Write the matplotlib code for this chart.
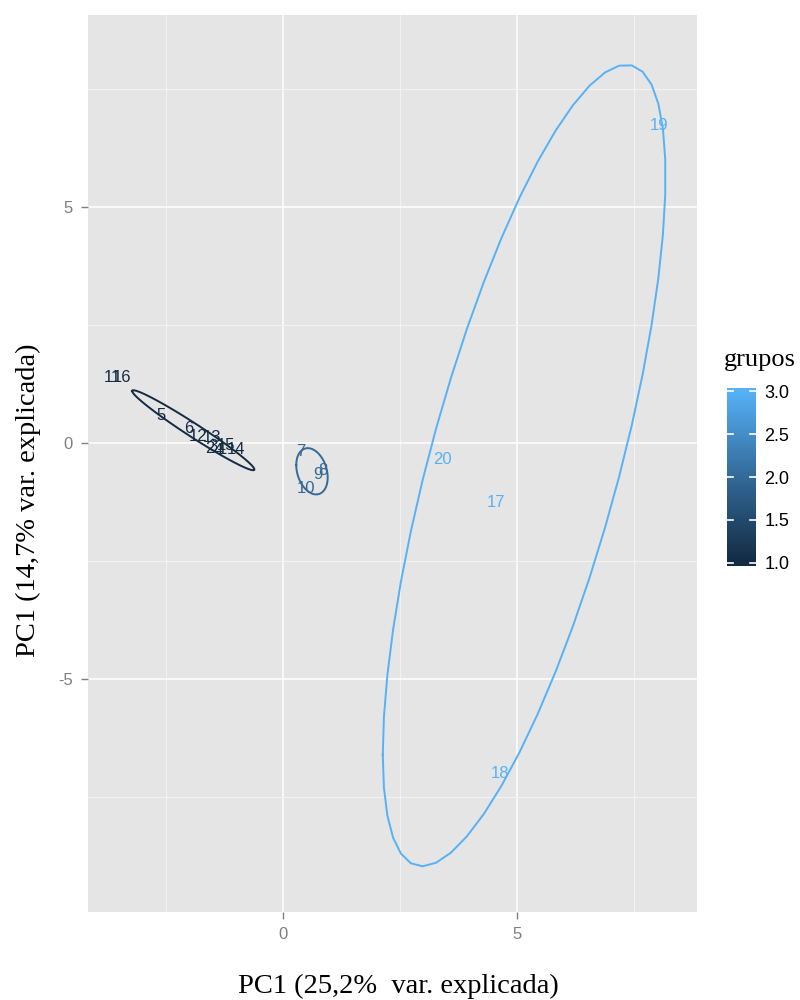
import numpy as np
import matplotlib
matplotlib.use("Agg")
import matplotlib.pyplot as plt
from matplotlib.colors import LinearSegmentedColormap, Normalize

# PCA scores
labels = ["1", "2", "3", "4", "5", "6", "7", "8", "9", "10",
          "11", "12", "13", "14", "15", "16", "17", "18", "19", "20"]
pc1 = [-1.30, -1.56, -1.50, -1.39, -2.61, -2.01, 0.38, 0.86, 0.75, 0.49,
       -3.65, -1.82, -1.52, -1.00, -1.22, -3.44, 4.55, 4.64, 8.04, 3.40]
pc2 = [-0.13, -0.11, -0.08, -0.15, 0.58, 0.31, -0.18, -0.59, -0.66, -0.97,
       1.38, 0.13, 0.11, -0.13, -0.05, 1.38, -1.27, -7.00, 6.72, -0.36]
grupos = [1, 1, 1, 1, 1, 1, 2, 2, 2, 2,
          1, 1, 1, 1, 1, 1, 3, 3, 3, 3]

chi2_68 = 2.2788  # qchisq(0.68, df=2), ggbiplot default ellipse.prob

x_ticks = [0, 5]
y_ticks = [-5, 0, 5]
cbar_ticks = [1.0, 1.5, 2.0, 2.5, 3.0]

plt.rcParams['axes.unicode_minus'] = False
cmap = LinearSegmentedColormap.from_list("ggblue", ["#132B43", "#336A98", "#56B1F7"])
norm = Normalize(1, 3)

serif = "Liberation Serif"
sans = "Liberation Sans"

fig = plt.figure(figsize=(8, 10), dpi=100)
ax = fig.add_axes([0.11, 0.088, 0.761, 0.897])
ax.set_facecolor("#E5E5E5")

pc1 = np.array(pc1)
pc2 = np.array(pc2)
grupos = np.array(grupos)

# ellipses like ggbiplot: circle %*% chol(var) * sqrt(qchisq(p, 2)) + mean
theta = np.linspace(-np.pi, np.pi, 50)
circle = np.column_stack([np.cos(theta), np.sin(theta)])
ed = np.sqrt(chi2_68)
for g in [1, 2, 3]:
    m = grupos == g
    xy = np.column_stack([pc1[m], pc2[m]])
    sigma = np.cov(xy, rowvar=False)
    L = np.linalg.cholesky(sigma)
    ell = circle @ L.T * ed + xy.mean(axis=0)
    ax.plot(ell[:, 0], ell[:, 1], color=cmap(norm(g)), lw=1.4, zorder=3)

for lab, x, y, g in zip(labels, pc1, pc2, grupos):
    ax.text(x, y, lab, color=cmap(norm(g)), fontsize=12, family=sans,
            ha="center", va="center", zorder=4)

ax.set_xlim(-4.17, 8.85)
ax.set_ylim(-9.94, 9.07)
ax.set_xticks(x_ticks)
ax.set_yticks(y_ticks)
ax.set_xticks([-2.5, 2.5, 7.5], minor=True)
ax.set_yticks([-7.5, -2.5, 2.5, 7.5], minor=True)
ax.grid(True, which="major", color="white", lw=1.1)
ax.grid(True, which="minor", color="#F2F2F2", lw=0.8)
ax.set_axisbelow(True)
for s in ax.spines.values():
    s.set_visible(False)
ax.tick_params(which="major", colors="#7F7F7F", length=5, width=1,
               labelsize=12, pad=6)
ax.tick_params(which="minor", length=0)
for t in ax.get_xticklabels() + ax.get_yticklabels():
    t.set_family(sans)

# axis titles (old ggplot centres the y title on the whole figure)
fig.text(0.4975, 0.014, "PC1 (25,2%  var. explicada)", family=serif, fontsize=20.5,
         ha="center", va="center")
fig.text(0.036, 0.5, "PC1 (14,7% var. explicada)", family=serif, fontsize=20.5,
         rotation=90, ha="center", va="center")

# colour bar legend, drawn as a gradient image
cax = fig.add_axes([0.909, 0.434, 0.036, 0.178])
lo, hi = 0.965, 3.035
grad = np.linspace(lo, hi, 256).reshape(-1, 1)
cax.imshow(grad, cmap=cmap, norm=norm, aspect="auto", origin="lower",
           extent=[0, 1, lo, hi])
cax.set_xlim(0, 1)
cax.set_ylim(lo, hi)
cax.set_xticks([])
cax.yaxis.tick_right()
cax.set_yticks(cbar_ticks)
cax.set_yticklabels(["%.1f" % v for v in cbar_ticks])
cax.tick_params(length=0, labelsize=13, pad=6)
for t in cax.get_yticklabels():
    t.set_family(sans)
for s in cax.spines.values():
    s.set_visible(False)
for v in cbar_ticks:
    cax.plot([0, 0.2], [v, v], color="white", lw=1.2)
    cax.plot([0.8, 1], [v, v], color="white", lw=1.2)
fig.text(0.905, 0.64, "grupos", family=serif, fontsize=19, ha="left", va="center")

fig.savefig("out.png", dpi=100)
